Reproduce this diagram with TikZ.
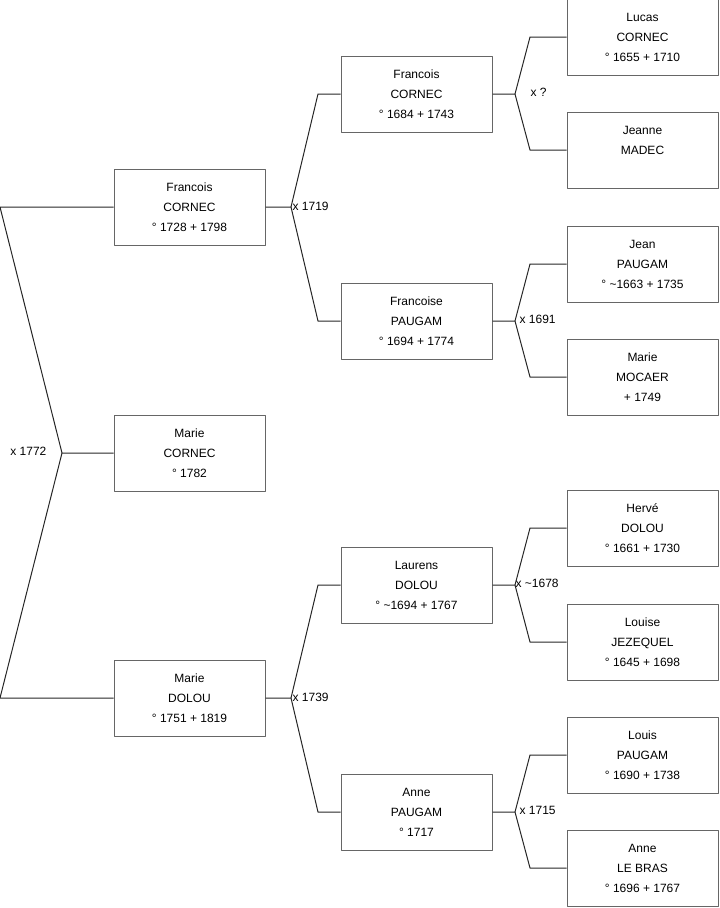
\documentclass[tikz,border=0pt]{standalone}
\usepackage{fontspec}
\setmainfont{Liberation Sans}
\tikzset{
  person/.style={draw=black!60,fill=white,line width=.75pt,minimum width=113.25pt,
    minimum height=57pt,inner sep=0pt,align=center,font=\fontsize{9}{15}\selectfont},
  link/.style={draw=black!85,line width=.75pt},
  wed/.style={inner sep=1pt,font=\fontsize{9}{11}\selectfont}
}
\newcommand{\abt}{\textasciitilde}
\begin{document}
\begin{tikzpicture}[x=.75pt,y=-.75pt,line join=round]
  \useasboundingbox (0,0) rectangle (719,908);
  % persons
  \node[person] (s1) at (189.5,453) {Marie\\CORNEC\\° 1782};
  \node[person] (s2) at (189.5,207) {Francois\\CORNEC\\° 1728 + 1798};
  \node[person] (s3) at (189.5,698) {Marie\\DOLOU\\° 1751 + 1819};
  \node[person] (s4) at (416.5,94) {Francois\\CORNEC\\° 1684 + 1743};
  \node[person] (s5) at (416.5,321) {Francoise\\PAUGAM\\° 1694 + 1774};
  \node[person] (s6) at (416.5,585) {Laurens\\DOLOU\\° \abt1694 + 1767};
  \node[person] (s7) at (416.5,812) {Anne\\PAUGAM\\° 1717};
  \node[person] (s8) at (642.5,37) {Lucas\\CORNEC\\° 1655 + 1710};
  \node[person] (s9) at (642.5,150) {Jeanne\\MADEC\\\mbox{}};
  \node[person] (s10) at (642.5,264) {Jean\\PAUGAM\\° \abt1663 + 1735};
  \node[person] (s11) at (642.5,377) {Marie\\MOCAER\\ + 1749};
  \node[person] (s12) at (642.5,528) {Hervé\\DOLOU\\° 1661 + 1730};
  \node[person] (s13) at (642.5,642) {Louise\\JEZEQUEL\\° 1645 + 1698};
  \node[person] (s14) at (642.5,755) {Louis\\PAUGAM\\° 1690 + 1738};
  \node[person] (s15) at (642.5,868) {Anne\\LE BRAS\\° 1696 + 1767};
  % forks
  \coordinate (v1) at (62,453);
  \coordinate (b2) at (0,207);   \coordinate (b3) at (0,698);
  \coordinate (v2) at (291,207);
  \coordinate (b4) at (318,94);  \coordinate (b5) at (318,321);
  \coordinate (v3) at (291,698);
  \coordinate (b6) at (318,585); \coordinate (b7) at (318,812);
  \coordinate (v4) at (515,94);
  \coordinate (b8) at (530,37);  \coordinate (b9) at (530,150);
  \coordinate (v5) at (515,321);
  \coordinate (b10) at (530,264); \coordinate (b11) at (530,377);
  \coordinate (v6) at (515,585);
  \coordinate (b12) at (530,528); \coordinate (b13) at (530,642);
  \coordinate (v7) at (515,812);
  \coordinate (b14) at (530,755); \coordinate (b15) at (530,868);
  \draw[link] (s1.west)--(v1)--(b2)--(s2.west); \draw[link] (v1)--(b3)--(s3.west);
  \draw[link] (s2.east)--(v2)--(b4)--(s4.west); \draw[link] (v2)--(b5)--(s5.west);
  \draw[link] (s3.east)--(v3)--(b6)--(s6.west); \draw[link] (v3)--(b7)--(s7.west);
  \draw[link] (s4.east)--(v4)--(b8)--(s8.west); \draw[link] (v4)--(b9)--(s9.west);
  \draw[link] (s5.east)--(v5)--(b10)--(s10.west); \draw[link] (v5)--(b11)--(s11.west);
  \draw[link] (s6.east)--(v6)--(b12)--(s12.west); \draw[link] (v6)--(b13)--(s13.west);
  \draw[link] (s7.east)--(v7)--(b14)--(s14.west); \draw[link] (v7)--(b15)--(s15.west);
  % marriages
  \node[wed,anchor=east] (m1) at (48,451) {x 1772};
  \node[wed,anchor=west] (m2) at (291,206) {x 1719};
  \node[wed,anchor=west] (m3) at (291,697) {x 1739};
  \node[wed,anchor=west] (m4) at (529,92) {x ?};
  \node[wed,anchor=west] (m5) at (518,319) {x 1691};
  \node[wed,anchor=west] (m6) at (514,583) {x \abt1678};
  \node[wed,anchor=west] (m7) at (518,810) {x 1715};
\end{tikzpicture}
\end{document}
